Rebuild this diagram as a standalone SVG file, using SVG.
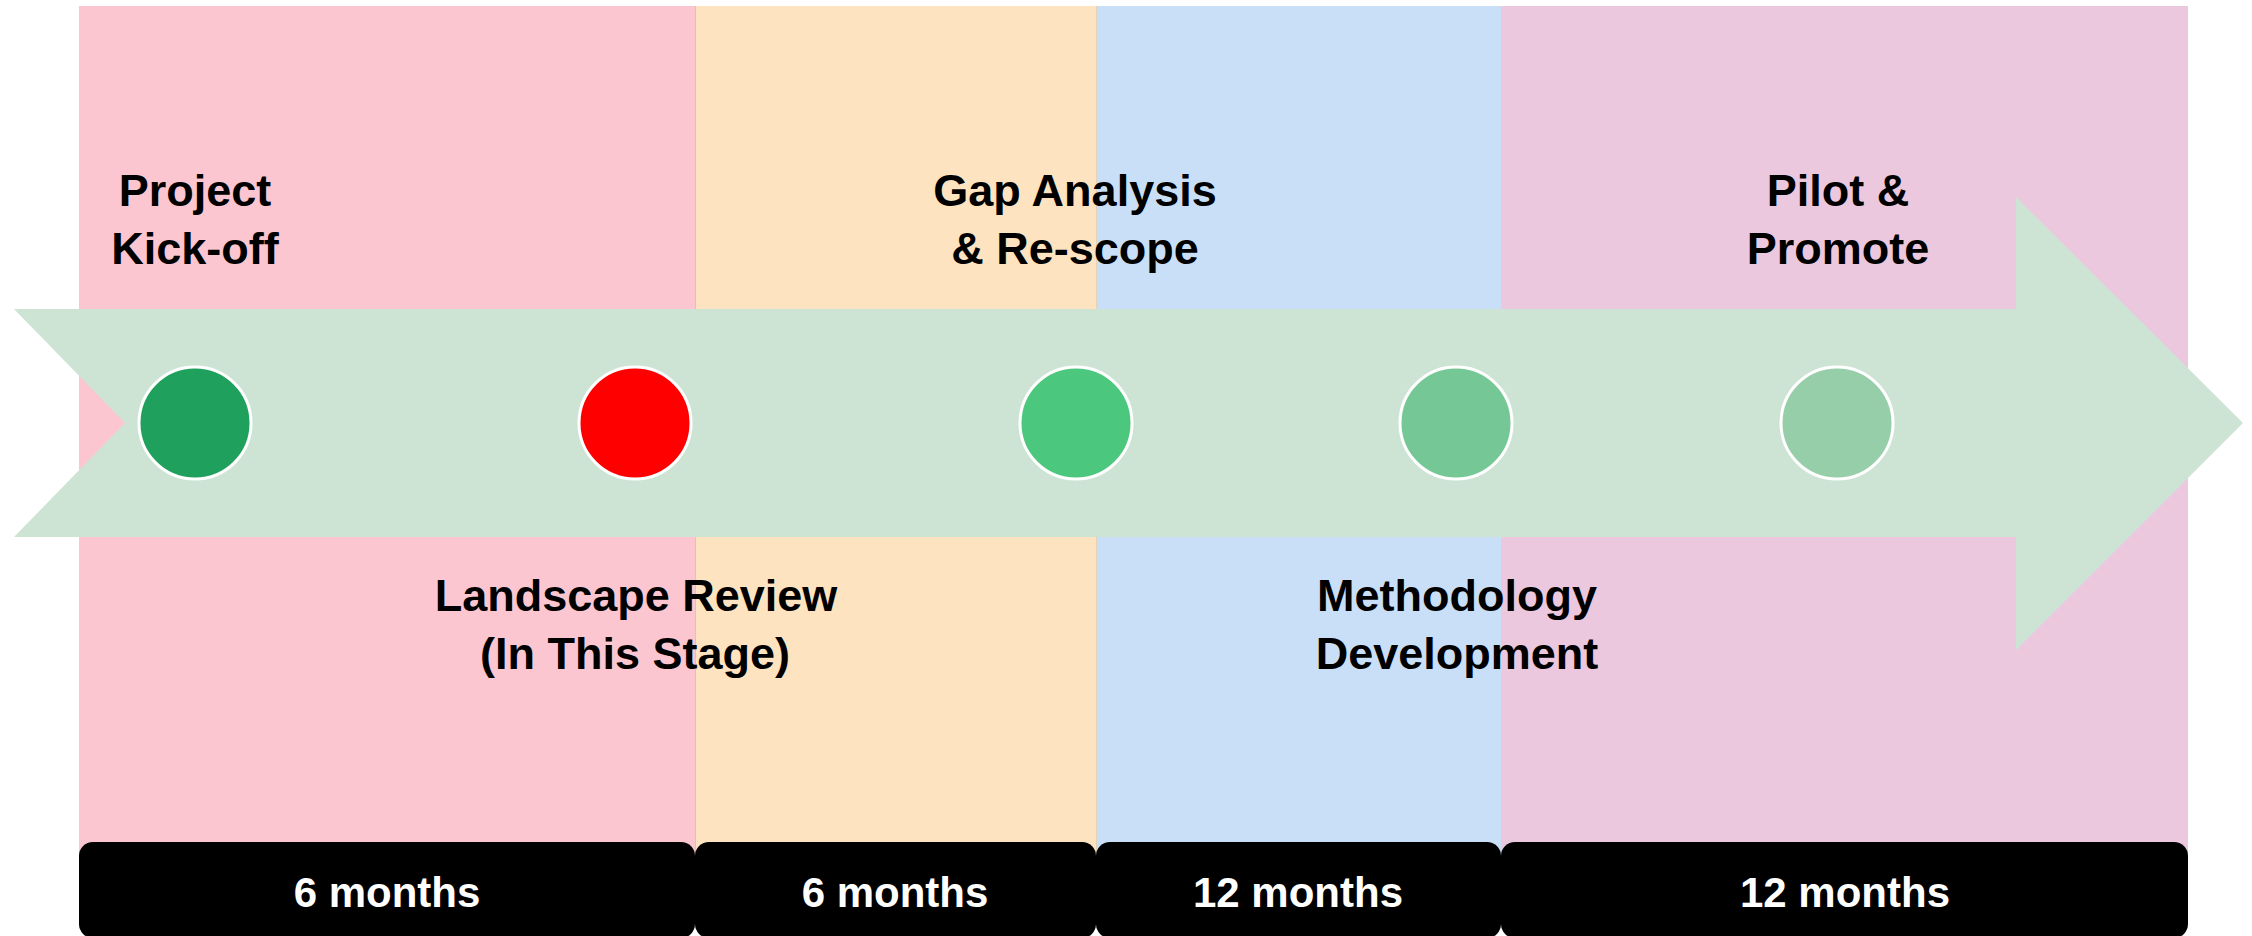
<svg xmlns="http://www.w3.org/2000/svg" width="2252" height="936" viewBox="0 0 2252 936">
<style>
.lbl{font-family:"Liberation Sans",Arial,sans-serif;font-weight:bold;font-size:45px;fill:#000;text-anchor:middle}
.dur{font-family:"Liberation Sans",Arial,sans-serif;font-weight:bold;font-size:42px;fill:#fff;text-anchor:middle}
.bar{fill:#000}
.dot{stroke:#fff;stroke-width:3}
</style>
<rect width="2252" height="936" fill="#fff"/>
<g id="bands">
<rect x="79" y="6" width="616" height="890" fill="#FBC6D0"/>
<rect x="695" y="6" width="401" height="890" fill="#FDE3C0"/>
<rect x="1096" y="6" width="405" height="890" fill="#C9DFF8"/>
<rect x="1501" y="6" width="687" height="890" fill="#EBC8DE"/>
<line x1="695.5" y1="6" x2="695.5" y2="896" stroke="#F6B8A8" stroke-width="1"/>
<line x1="1096.5" y1="6" x2="1096.5" y2="896" stroke="#E2D2B8" stroke-width="1"/>
</g>
<g id="connectors">
<polygon id="timeline-arrow" points="14,309 2016,309 2016,197 2243,423 2016,650 2016,537 14,537 125,423" fill="#CDE4D5"/>
</g>
<g id="node-kickoff">
<circle class="dot" cx="195" cy="423" r="56" fill="#1FA05C"/>
<text class="lbl" x="195" y="206">Project</text>
<text class="lbl" x="195" y="264">Kick-off</text>
</g>
<g id="node-landscape">
<circle class="dot" cx="635" cy="423" r="56" fill="#FF0000"/>
<text class="lbl" x="636" y="611">Landscape Review</text>
<text class="lbl" x="635" y="669">(In This Stage)</text>
</g>
<g id="node-gap">
<circle class="dot" cx="1076" cy="423" r="56" fill="#4CC77E"/>
<text class="lbl" x="1075" y="206">Gap Analysis</text>
<text class="lbl" x="1075" y="264">&amp; Re-scope</text>
</g>
<g id="node-method">
<circle class="dot" cx="1456" cy="423" r="56" fill="#75C895"/>
<text class="lbl" x="1457" y="611">Methodology</text>
<text class="lbl" x="1457" y="669">Development</text>
</g>
<g id="node-pilot">
<circle class="dot" cx="1837" cy="423" r="56" fill="#97CEAA"/>
<text class="lbl" x="1838" y="206">Pilot &amp;</text>
<text class="lbl" x="1838" y="264">Promote</text>
</g>
<g id="duration-1">
<rect class="bar" x="79" y="842" width="616" height="96" rx="14"/>
<text class="dur" x="387" y="907">6 months</text>
</g>
<g id="duration-2">
<rect class="bar" x="695" y="842" width="401" height="96" rx="14"/>
<text class="dur" x="895" y="907">6 months</text>
</g>
<g id="duration-3">
<rect class="bar" x="1096" y="842" width="405" height="96" rx="14"/>
<text class="dur" x="1298" y="907">12 months</text>
</g>
<g id="duration-4">
<rect class="bar" x="1501" y="842" width="687" height="96" rx="14"/>
<text class="dur" x="1845" y="907">12 months</text>
</g>
</svg>
